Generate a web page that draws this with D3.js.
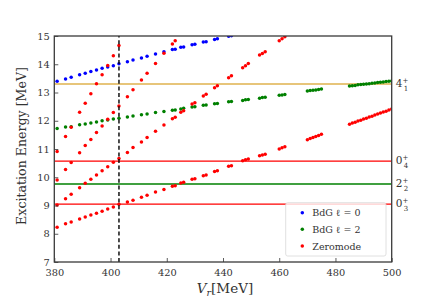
<!DOCTYPE html>
<html>
<head>
<meta charset="utf-8">
<script src="https://cdn.jsdelivr.net/npm/d3@7"></script>
<style>
  body { margin: 0; background: #fff; }
</style>
</head>
<body>
<div id="grafica"></div>
<script>
// Datos (Vr en MeV, energias en MeV)
var vrBlue = [381,384,386,389,391,393,395,397,399,401,403,406,408,411,413,416,419,422,423,425,426,429,430,433,434,437,438,442,443];
var eBlue  = [13.40,13.48,13.54,13.63,13.68,13.74,13.80,13.86,13.90,13.95,14.02,14.09,14.15,14.22,14.28,14.36,14.44,14.52,14.53,14.60,14.61,14.69,14.71,14.79,14.80,14.88,14.90,14.99,15.01];

var vrGreen = [381,384,386,389,391,393,395,397,399,401,403,406,408,411,413,416,419,422,423,425,426,429,430,433,434,437,438,442,443,447,448,449,453,454,455,460,461,462,470,471,472,473,474,475,485,486,487,488,489,490,491,492,493,494,495,496,497,498,499,500];
var eGreen  = [11.73,11.78,11.79,11.86,11.885,11.92,11.96,12.00,12.03,12.06,12.09,12.13,12.17,12.21,12.24,12.29,12.33,12.37,12.38,12.42,12.44,12.49,12.50,12.55,12.56,12.60,12.61,12.67,12.68,12.72,12.74,12.75,12.80,12.82,12.83,12.90,12.91,12.93,13.05,13.07,13.08,13.09,13.11,13.12,13.23,13.24,13.25,13.27,13.28,13.29,13.30,13.31,13.33,13.34,13.35,13.36,13.37,13.39,13.40,13.41];

// Zeromode: cuatro ramas
var vrRed1 = vrGreen;
var eRed1  = [8.23,8.35,8.42,8.52,8.59,8.66,8.73,8.80,8.88,8.95,9.04,9.12,9.19,9.29,9.36,9.48,9.57,9.68,9.70,9.80,9.82,9.93,9.95,10.05,10.08,10.20,10.23,10.39,10.41,10.58,10.62,10.65,10.76,10.79,10.81,11.00,11.04,11.08,11.33,11.37,11.41,11.44,11.48,11.52,11.88,11.92,11.95,11.99,12.02,12.06,12.09,12.13,12.16,12.20,12.24,12.27,12.31,12.34,12.38,12.42];

var vrRed2 = [381,384,386,389,391,393,395,397,399,401,403,406,408,411,413,416,419,422,423,425,426,429,430,433,434,437,438,442,443,447,448,449,453,454,455,460,461,462];
var eRed2  = [9.02,9.24,9.40,9.63,9.79,9.93,10.08,10.23,10.37,10.53,10.66,10.88,11.05,11.25,11.41,11.63,11.85,12.07,12.12,12.30,12.35,12.59,12.64,12.88,12.94,13.17,13.24,13.52,13.59,13.88,13.95,14.03,14.33,14.38,14.44,14.83,14.90,14.97];

var vrRed3 = [381,384,386,389,391,393,395,397,399,401,403,406,408,411,413,416,419,422,423];
var eRed3  = [9.90,10.27,10.52,10.87,11.12,11.34,11.58,11.81,12.05,12.29,12.52,12.85,13.10,13.44,13.68,14.03,14.39,14.72,14.83];

var vrRed4 = [381,384,386,389,391,393,395,397,399,401,403];
var eRed4  = [10.91,11.44,11.77,12.30,12.62,12.96,13.31,13.63,13.96,14.30,14.66];

// Niveles experimentales (lineas horizontales)
var niveles = [
  {e: 13.30, color: '#dfb24e', lab: '4', sub: '1'},
  {e: 10.57, color: '#ff0000', lab: '0', sub: '4'},
  {e: 9.76,  color: '#008000', lab: '2', sub: '2'},
  {e: 9.05,  color: '#ff0000', lab: '0', sub: '3'}
];
var vrCorte = 403;

var xTicks = [380,400,420,440,460,480,500];
var yTicks = [7,8,9,10,11,12,13,14,15];

var leyenda = [
  {color: '#0000ff', texto: 'BdG \u2113 = 0'},
  {color: '#008000', texto: 'BdG \u2113 = 2'},
  {color: '#ff0000', texto: 'Zeromode'}
];

var fuente = 'DejaVu Serif';
var width = 436, height = 300;
var margin = {top: 36, right: 44.3, bottom: 38, left: 54.3};

var svg = d3.select('#grafica').append('svg')
    .attr('width', width).attr('height', height)
    .attr('font-family', fuente);

var escalaX = d3.scaleLinear().domain([380, 500]).range([margin.left, width - margin.right]);
var escalaY = d3.scaleLinear().domain([7, 15]).range([height - margin.bottom, margin.top]);

svg.append('defs').append('clipPath').attr('id', 'recorte')
  .append('rect')
    .attr('x', margin.left).attr('y', margin.top)
    .attr('width', escalaX(500) - escalaX(380))
    .attr('height', escalaY(7) - escalaY(15));

var zona = svg.append('g').attr('clip-path', 'url(#recorte)');

// lineas horizontales
niveles.forEach(function (n) {
  zona.append('line')
    .attr('x1', escalaX(380)).attr('x2', escalaX(500))
    .attr('y1', escalaY(n.e)).attr('y2', escalaY(n.e))
    .attr('stroke', n.color).attr('stroke-width', 1.4);
});

// puntos
function serie(vr, e, color) {
  zona.append('g').selectAll('circle')
    .data(vr.map(function (v, i) { return {v: v, e: e[i]}; }))
    .enter().append('circle')
      .attr('cx', function (d) { return escalaX(d.v); })
      .attr('cy', function (d) { return escalaY(d.e); })
      .attr('r', 1.75)
      .attr('fill', color);
}
serie(vrBlue, eBlue, '#0000ff');
serie(vrGreen, eGreen, '#008000');
serie(vrRed1, eRed1, '#ff0000');
serie(vrRed2, eRed2, '#ff0000');
serie(vrRed3, eRed3, '#ff0000');
serie(vrRed4, eRed4, '#ff0000');

// linea vertical discontinua
zona.append('line')
  .attr('x1', escalaX(vrCorte)).attr('x2', escalaX(vrCorte))
  .attr('y1', escalaY(7)).attr('y2', escalaY(15))
  .attr('stroke', '#000').attr('stroke-width', 1.4)
  .attr('stroke-dasharray', '4,2.6');

// ejes
var ejeX = d3.axisBottom(escalaX).tickValues(xTicks).tickSizeInner(-4).tickSizeOuter(0).tickPadding(6.5);
var ejeY = d3.axisLeft(escalaY).tickValues(yTicks).tickSizeInner(-4).tickSizeOuter(0).tickPadding(4.5);

var gx = svg.append('g').attr('transform', 'translate(0,' + escalaY(7) + ')').call(ejeX);
var gy = svg.append('g').attr('transform', 'translate(' + escalaX(380) + ',0)').call(ejeY);
[gx, gy].forEach(function (g) {
  g.attr('font-family', fuente).attr('font-size', 9.8);
  g.select('.domain').remove();
  g.selectAll('line').attr('stroke', '#333').attr('stroke-width', 0.8);
  g.selectAll('text').attr('fill', '#333');
});
gx.selectAll('text').attr('dy', '0.75em');

// marco
svg.append('rect')
  .attr('x', escalaX(380)).attr('y', escalaY(15))
  .attr('width', escalaX(500) - escalaX(380))
  .attr('height', escalaY(7) - escalaY(15))
  .attr('fill', 'none').attr('stroke', '#3a3a3a').attr('stroke-width', 1.3);

// etiquetas de niveles a la derecha
niveles.forEach(function (n) {
  var t = svg.append('text')
    .attr('x', escalaX(500) + 4)
    .attr('y', escalaY(n.e) + 3)
    .attr('fill', '#333')
    .attr('font-size', 10.5);
  t.append('tspan').text(n.lab);
  t.append('tspan').attr('dy', -4.5).attr('font-size', 7).text('+');
  t.append('tspan').attr('dx', -4.4).attr('dy', 8.5).attr('font-size', 7).text(n.sub);
});

// leyenda
var ley = svg.append('g');
ley.append('rect')
  .attr('x', 285.7).attr('y', 202.7).attr('width', 100.3).attr('height', 53.3)
  .attr('rx', 2).attr('fill', '#fff').attr('fill-opacity', 0.8)
  .attr('stroke', '#d8d8d8').attr('stroke-width', 0.8);
leyenda.forEach(function (l, i) {
  var yy = 212.7 + i * 16.65;
  ley.append('circle').attr('cx', 302.3).attr('cy', yy).attr('r', 1.75).attr('fill', l.color);
  ley.append('text').attr('x', 312.3).attr('y', yy + 3.5)
    .attr('fill', '#333').attr('font-size', 9.5).text(l.texto);
});

// titulos de ejes
var ty = svg.append('text')
  .attr('transform', 'translate(26,' + (escalaY(11) - 3) + ') rotate(-90)')
  .attr('text-anchor', 'middle')
  .attr('fill', '#333')
  .attr('font-size', 15)
  .text('Excitation Energy [MeV]');
// ajusto el tamaño para que ocupe lo mismo que en la figura (~158 px)
var largo = ty.node().getComputedTextLength();
if (largo > 0) ty.attr('font-size', 15 * 158 / largo);

var tx = svg.append('text')
  .attr('x', 225).attr('y', 292.5)
  .attr('text-anchor', 'middle')
  .attr('fill', '#333')
  .attr('font-size', 13.5);
tx.append('tspan').attr('font-style', 'italic').text('V');
tx.append('tspan').attr('dy', 3).attr('font-size', 9.5).attr('font-style', 'italic').text('r');
tx.append('tspan').attr('dy', -3).text('[MeV]');
</script>
</body>
</html>
